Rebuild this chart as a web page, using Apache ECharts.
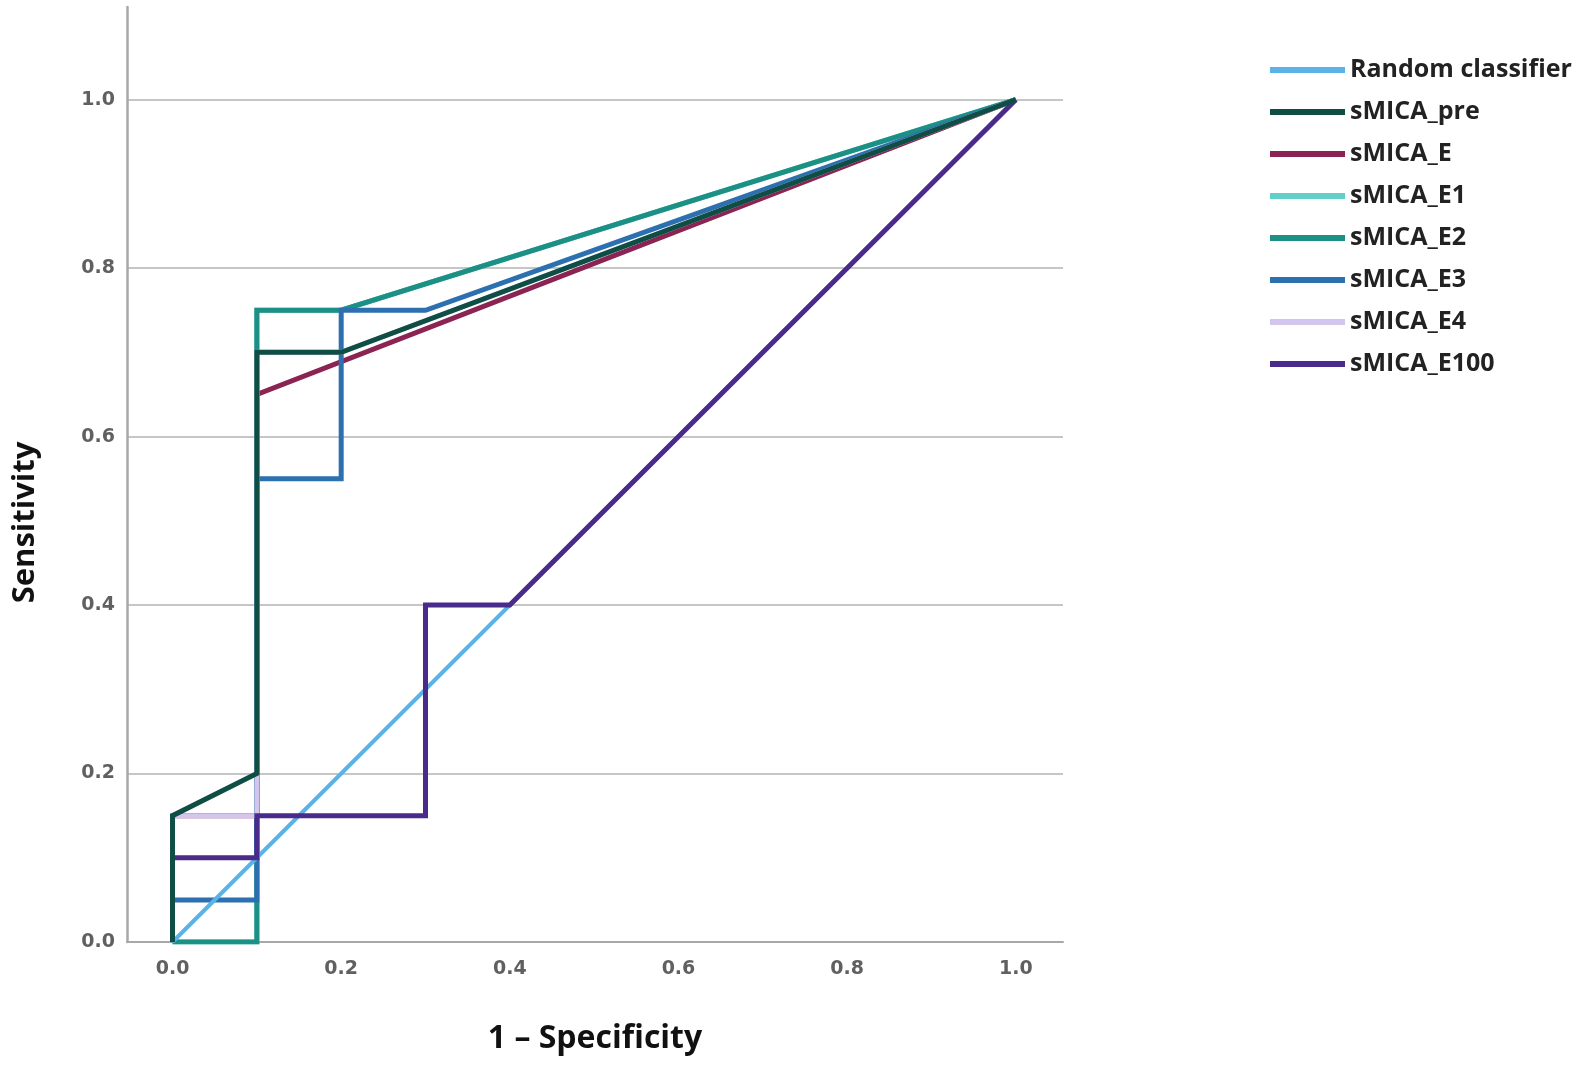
<!DOCTYPE html>
<html>
<head>
<meta charset="utf-8">
<script src="https://cdn.jsdelivr.net/npm/echarts@6/dist/echarts.min.js"></script>
<style>
  html, body { margin: 0; padding: 0; background: #fff; }
  #container { width: 1595px; height: 1068px; }
</style>
</head>
<body>
<div id="container"></div>
<script>
// ROC curves, points are [1 - specificity, sensitivity]
var seriesNames = ['Random classifier', 'sMICA_pre', 'sMICA_E', 'sMICA_E1', 'sMICA_E2', 'sMICA_E3', 'sMICA_E4', 'sMICA_E100']
var seriesColors = ['#5ab2e6', '#0e4e45', '#8b2452', '#62d0c8', '#1d9086', '#2d70b0', '#d3c6ee', '#4a2b8c']

var randomPts = [[0, 0], [1, 1]]
var prePts = [[0, 0], [0, 0.15], [0.1, 0.2], [0.1, 0.7], [0.2, 0.7], [1, 1]]
var ePts = [[0, 0], [0, 0.15], [0.1, 0.15], [0.1, 0.65], [1, 1]]
var e1Pts = [[0, 0], [0.1, 0], [0.1, 0.75], [0.2, 0.75], [1, 1]]
var e2Pts = [[0, 0], [0.1, 0], [0.1, 0.75], [0.2, 0.75], [1, 1]]
var e3Pts = [[0, 0], [0, 0.05], [0.1, 0.05], [0.1, 0.55], [0.2, 0.55], [0.2, 0.75], [0.3, 0.75], [1, 1]]
var e4Pts = [[0, 0], [0, 0.15], [0.1, 0.15], [0.1, 0.7], [0.2, 0.7], [1, 1]]
var e100Pts = [[0, 0], [0, 0.1], [0.1, 0.1], [0.1, 0.15], [0.3, 0.15], [0.3, 0.4], [0.4, 0.4], [1, 1]]

var tickVals = [0, 0.2, 0.4, 0.6, 0.8, 1.0]

var allPts = [randomPts, prePts, ePts, e1Pts, e2Pts, e3Pts, e4Pts, e100Pts]
// stacking order, lowest first (later ones painted on top)
var drawOrder = [2, 3, 4, 5, 6, 0, 7, 1]

var dom = document.getElementById('container')
var myChart = echarts.init(dom, null, { renderer: 'canvas' })

var series = drawOrder.map(function (i, k) {
    return {
        name: seriesNames[i],
        type: 'line',
        data: allPts[i],
        showSymbol: false,
        symbol: 'none',
        z: 2 + k,
        lineStyle: { color: seriesColors[i], width: i == 0 ? 4 : 5, join: 'miter' },
        itemStyle: { color: seriesColors[i] },
        animation: false
    }
})

var tickLabel = {
    customValues: tickVals,
    formatter: function (v) { return v.toFixed(1) },
    fontFamily: 'DejaVu Sans',
    fontWeight: 'bold',
    fontSize: 19,
    color: '#606060'
}

var option = {
    backgroundColor: '#fff',
    animation: false,
    grid: { left: 127, right: 532, top: 7, bottom: 126, containLabel: false },
    legend: {
        data: seriesNames,
        orient: 'vertical',
        left: 1265,
        top: 51,
        icon: 'rect',
        itemWidth: 75,
        itemHeight: 6,
        itemGap: 14,
        textStyle: { fontFamily: 'Open Sans', fontWeight: 'bold', fontSize: 25, color: '#222', lineHeight: 28 }
    },
    xAxis: {
        type: 'value',
        min: -0.054,
        max: 1.056,
        name: '1 \u2013 Specificity',
        nameLocation: 'middle',
        nameGap: 81,
        nameTextStyle: { fontFamily: 'Open Sans', fontWeight: 'bold', fontSize: 32, color: '#111' },
        axisLine: { show: true, onZero: false, lineStyle: { color: '#a8a8a8', width: 2 } },
        axisTick: { show: false },
        splitLine: { show: false },
        axisLabel: Object.assign({ margin: 18 }, tickLabel)
    },
    yAxis: {
        type: 'value',
        min: 0,
        max: 1.11,
        name: 'Sensitivity',
        nameLocation: 'middle',
        nameGap: 86,
        nameTextStyle: { fontFamily: 'Open Sans', fontWeight: 'bold', fontSize: 31, color: '#111', padding: [0, 96, 0, 0] },
        axisLine: { show: true, onZero: false, lineStyle: { color: '#a8a8a8', width: 2.5 } },
        axisTick: { show: false, customValues: tickVals },
        axisLabel: Object.assign({ margin: 12 }, tickLabel),
        splitLine: { show: true, lineStyle: { color: '#c6c6c6', width: 2 } }
    },
    series: series
}

myChart.setOption(option)
window.addEventListener('resize', myChart.resize)
</script>
</body>
</html>
